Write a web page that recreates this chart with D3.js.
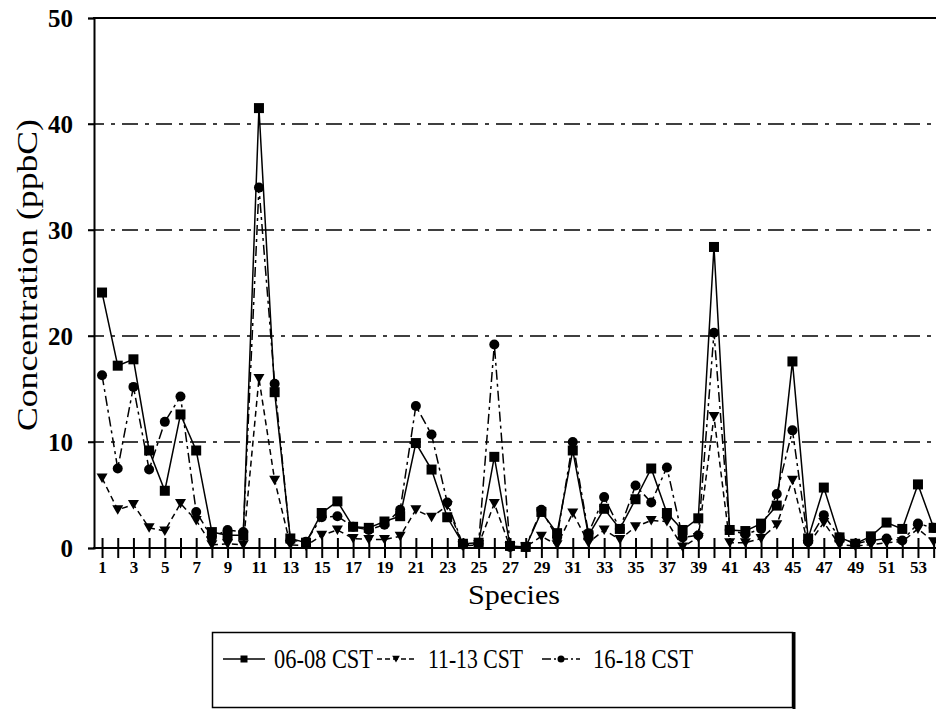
<!DOCTYPE html>
<html>
<head>
<meta charset="utf-8">
<script src="https://cdn.jsdelivr.net/npm/d3@7"></script>
<style>
  body { margin: 0; background: #fff; }
  svg { display: block; }
  text { font-family: "Liberation Serif", "Times New Roman", serif; fill: #000; }
</style>
</head>
<body>
<div id="plotContainer"></div>
<script>
// species numbers on the x axis
const species = d3.range(1, 55);
// 06-08 CST (squares, solid line)
const morning = [24.1, 17.2, 17.8, 9.2, 5.4, 12.6, 9.2, 1.5, 1.2, 1.2,
  41.5, 14.7, 0.9, 0.5, 3.3, 4.4, 2.0, 1.9, 2.5, 3.0,
  9.9, 7.4, 2.9, 0.4, 0.5, 8.6, 0.2, 0.1, 3.4, 1.4,
  9.2, 1.2, 3.7, 1.8, 4.6, 7.5, 3.3, 1.7, 2.8, 28.4,
  1.7, 1.6, 2.3, 4.0, 17.6, 0.9, 5.7, 1.0, 0.4, 1.1,
  2.4, 1.8, 6.0, 1.9];
// 11-13 CST (triangles, dashed line)
const noon = [6.6, 3.6, 4.1, 1.9, 1.6, 4.2, 2.6, 0.3, 0.4, 0.3,
  16.0, 6.4, 0.3, 0.2, 1.2, 1.7, 0.9, 0.8, 0.8, 1.1,
  3.6, 2.9, 4.0, 0.2, 0.3, 4.2, 0.1, 0.1, 1.1, 0.3,
  3.3, 0.5, 1.7, 0.8, 2.0, 2.6, 2.5, 0.1, 1.0, 12.4,
  0.5, 0.5, 0.9, 2.2, 6.4, 0.3, 2.4, 0.3, 0.2, 0.3,
  0.5, 0.6, 1.8, 0.6];
// 16-18 CST (circles, dash-dot line)
const evening = [16.3, 7.5, 15.2, 7.4, 11.9, 14.3, 3.4, 1.0, 1.7, 1.5,
  34.0, 15.5, 0.7, 0.6, 2.9, 3.0, 2.0, 1.7, 2.2, 3.6,
  13.4, 10.7, 4.3, 0.3, 0.4, 19.2, 0.1, 0.1, 3.6, 1.0,
  10.0, 1.4, 4.8, 1.8, 5.9, 4.3, 7.6, 1.0, 1.2, 20.3,
  1.7, 1.3, 1.8, 5.1, 11.1, 0.6, 3.1, 1.0, 0.4, 0.7,
  0.9, 0.7, 2.3, 1.9];
const yTicks = [0, 10, 20, 30, 40, 50];
const seriesNames = ["06-08 CST", "11-13 CST", "16-18 CST"];

const svgWidth = 936, svgHeight = 709;
let margin = {top: 18, left: 94, bottom: 161};

let x = d3.scaleLinear().domain([0.5, 54.5]).range([94.2, 941.5]);
let y = d3.scaleLinear().domain([0, 50]).range([548, 18]);

let svg = d3.select("#plotContainer").append("svg")
  .attr("width", svgWidth)
  .attr("height", svgHeight);

// grid lines (dash-dot, scanned look)
svg.append("g").selectAll("line")
  .data(yTicks.filter(d => d > 0 && d < 50))
  .enter().append("line")
  .attr("x1", 88).attr("x2", svgWidth)
  .attr("y1", d => y(d)).attr("y2", d => y(d))
  .attr("stroke", "#000").attr("stroke-width", 1.3)
  .attr("stroke-dasharray", "16,7,4,7");

// top frame line
svg.append("line")
  .attr("x1", 93).attr("x2", svgWidth)
  .attr("y1", y(50)).attr("y2", y(50))
  .attr("stroke", "#000").attr("stroke-width", 2);

// y axis
let yAxis = d3.axisLeft(y).tickValues(yTicks).tickSize(6).tickFormat(d3.format("d"));
let gy = svg.append("g").attr("transform", "translate(94,0)").call(yAxis);
gy.select(".domain").attr("stroke-width", 2);
gy.selectAll(".tick line").attr("stroke-width", 1.5);
gy.selectAll(".tick text")
  .attr("x", -21)
  .attr("dy", "0.35em")
  .style("font-family", "Liberation Serif, serif")
  .style("font-size", "25px")
  .style("font-weight", "bold");

// x axis
let xAxis = d3.axisBottom(x).tickValues(species).tickSize(10)
  .tickFormat(d => d % 2 === 1 ? d : "");
let gx = svg.append("g").attr("transform", "translate(0," + y(0) + ")").call(xAxis);
gx.select(".domain").attr("stroke-width", 2).attr("d", "M93,0H" + svgWidth);
gx.selectAll(".tick line").attr("y1", -10).attr("y2", 10).attr("stroke-width", 2);
gx.selectAll(".tick text")
  .attr("y", 13)
  .style("font-family", "Liberation Serif, serif")
  .style("font-size", "17px")
  .style("font-weight", "bold");

// axis titles
svg.append("text")
  .attr("x", 514).attr("y", 604)
  .style("text-anchor", "middle")
  .style("font-size", "28px")
  .attr("textLength", 92).attr("lengthAdjust", "spacingAndGlyphs")
  .text("Species");

svg.append("text")
  .attr("transform", "translate(37,275) rotate(-90)")
  .style("text-anchor", "middle")
  .style("font-size", "30px")
  .attr("textLength", 312).attr("lengthAdjust", "spacingAndGlyphs")
  .text("Concentration (ppbC)");

// series
const series = [
  {name: seriesNames[0], values: morning, dash: null, sym: "square"},
  {name: seriesNames[1], values: noon, dash: "6,4", sym: "triangle"},
  {name: seriesNames[2], values: evening, dash: "10,4,3,4", sym: "circle"}
];

function marker(g, type, scale) {
  let s = scale || 1;
  if (type === "square") {
    return g.append("rect").attr("x", -5 * s).attr("y", -5 * s)
      .attr("width", 10 * s).attr("height", 10 * s).attr("fill", "#000");
  } else if (type === "triangle") {
    return g.append("path")
      .attr("d", d3.line()([[-5.5 * s, -4.5 * s], [5.5 * s, -4.5 * s], [0, 5 * s]]) + "Z")
      .attr("fill", "#000");
  }
  return g.append("circle").attr("r", 5 * s).attr("fill", "#000");
}

let line = d3.line()
  .x((d, i) => x(species[i]))
  .y(d => y(d));

// draw lines from the back, markers on top
series.slice().reverse().forEach(s => {
  svg.append("path")
    .datum(s.values)
    .attr("d", line)
    .attr("fill", "none")
    .attr("stroke", "#000")
    .attr("stroke-width", 1.5)
    .attr("stroke-dasharray", s.dash);
});
series.slice().reverse().forEach(s => {
  let g = svg.append("g");
  s.values.forEach((v, i) => {
    let m = g.append("g").attr("transform", "translate(" + x(species[i]) + "," + y(v) + ")");
    marker(m, s.sym);
  });
});

// legend
let legend = svg.append("g");
legend.append("rect")
  .attr("x", 212.5).attr("y", 632.5).attr("width", 580).attr("height", 75)
  .attr("fill", "#fff").attr("stroke", "#000").attr("stroke-width", 1.5);
legend.append("line")
  .attr("x1", 794).attr("x2", 794).attr("y1", 632).attr("y2", 709)
  .attr("stroke", "#000").attr("stroke-width", 3);

const legendItems = [
  {x1: 223, x2: 265, tx: 274, tw: 99},
  {x1: 377, x2: 415, tx: 428, tw: 95},
  {x1: 542, x2: 580, tx: 593, tw: 100}
];
series.forEach((s, i) => {
  let li = legendItems[i];
  legend.append("line")
    .attr("x1", li.x1).attr("x2", li.x2).attr("y1", 659).attr("y2", 659)
    .attr("stroke", "#000").attr("stroke-width", 1.5)
    .attr("stroke-dasharray", s.dash ? (i === 1 ? "5,3" : "9,3,2,3") : null);
  let m = legend.append("g").attr("transform", "translate(" + ((li.x1 + li.x2) / 2) + ",659)");
  marker(m, s.sym, 0.7);
  legend.append("text")
    .attr("x", li.tx).attr("y", 668)
    .style("font-size", "27px")
    .attr("textLength", li.tw).attr("lengthAdjust", "spacingAndGlyphs")
    .text(s.name);
});
</script>
</body>
</html>
